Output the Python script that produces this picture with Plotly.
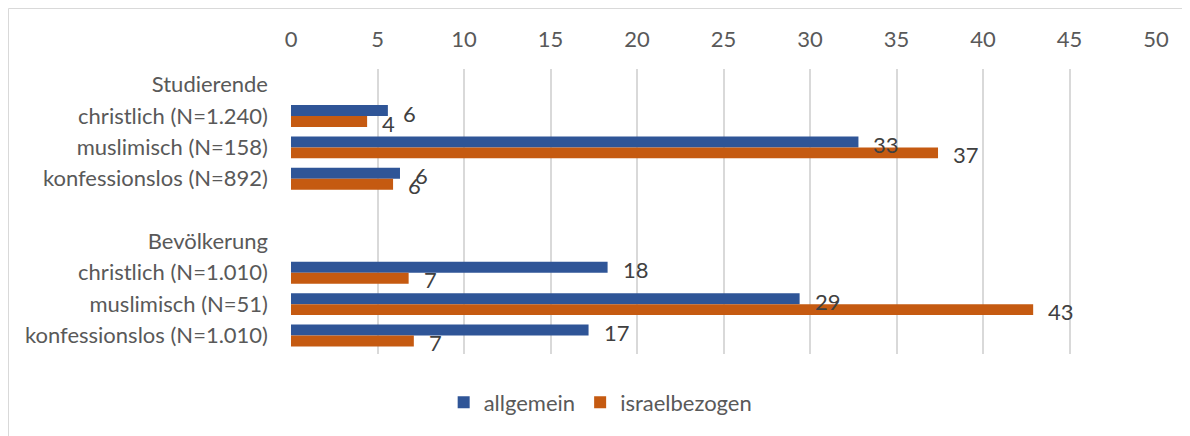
import plotly.graph_objects as go

categories = [
    "Studierende",
    "christlich (N=1.240)",
    "muslimisch (N=158)",
    "konfessionslos (N=892)",
    " ",
    "Bevölkerung",
    "christlich (N=1.010)",
    "muslimisch (N=51)",
    "konfessionslos (N=1.010)",
]
allgemein = [None, 5.6, 32.8, 6.3, None, None, 18.3, 29.4, 17.2]
israelbezogen = [None, 4.4, 37.4, 5.9, None, None, 6.8, 42.9, 7.1]
x_ticks = [0, 5, 10, 15, 20, 25, 30, 35, 40, 45, 50]

BLUE = "#2F5597"
ORANGE = "#C55A11"
FONT = "Lato"

# the page body has an 8px margin, so the figure is a bit smaller than the window
W, H = 1182, 428
L, R, T, B = 283, 34, 61, 82

fig = go.Figure()
fig.add_trace(
    go.Bar(
        y=categories,
        x=allgemein,
        name="allgemein",
        orientation="h",
        marker=dict(color=BLUE, line=dict(width=0)),
    )
)
fig.add_trace(
    go.Bar(
        y=categories,
        x=israelbezogen,
        name="israelbezogen",
        orientation="h",
        marker=dict(color=ORANGE, line=dict(width=0)),
    )
)

# data labels, a bit away from the bar ends like in the original
for values, shift in [(allgemein, 3), (israelbezogen, -7)]:
    for cat, v in zip(categories, values):
        if v is None:
            continue
        fig.add_annotation(
            x=v,
            y=cat,
            text="{:.0f}".format(v),
            showarrow=False,
            xanchor="left",
            xshift=13,
            yshift=shift,
            font=dict(family=FONT, size=22, color="#404040"),
        )

# chart frame
pw = W - L - R
ph = H - T - B
fig.add_shape(
    type="rect",
    xref="paper",
    yref="paper",
    x0=(0.5 - L) / pw,
    x1=1.2,
    y0=-0.5,
    y1=(ph + T - 0.5) / ph,
    line=dict(color="#d9d9d9", width=1),
    layer="below",
)

fig.update_layout(
    width=W,
    height=H,
    margin=dict(l=L, r=R, t=T, b=B),
    paper_bgcolor="white",
    plot_bgcolor="white",
    barmode="group",
    bargap=0.3,
    bargroupgap=0,
    font=dict(family=FONT, size=22, color="#595959"),
    showlegend=True,
    legend=dict(
        orientation="h",
        x=0.358,
        xanchor="center",
        y=-0.17,
        yanchor="middle",
        font=dict(family=FONT, size=22, color="#595959"),
        itemwidth=30,
    ),
)
fig.update_xaxes(
    range=[0, 50],
    tickvals=x_ticks,
    side="top",
    showgrid=True,
    gridcolor="#d9d9d9",
    gridwidth=1.5,
    zeroline=False,
    showline=False,
    ticks="",
    ticklabelstandoff=17,
    automargin=False,
    fixedrange=True,
)
fig.update_yaxes(
    autorange="reversed",
    showgrid=False,
    showline=False,
    ticks="",
    ticklabelstandoff=22,
    automargin=False,
)

fig.write_html("out.html")
